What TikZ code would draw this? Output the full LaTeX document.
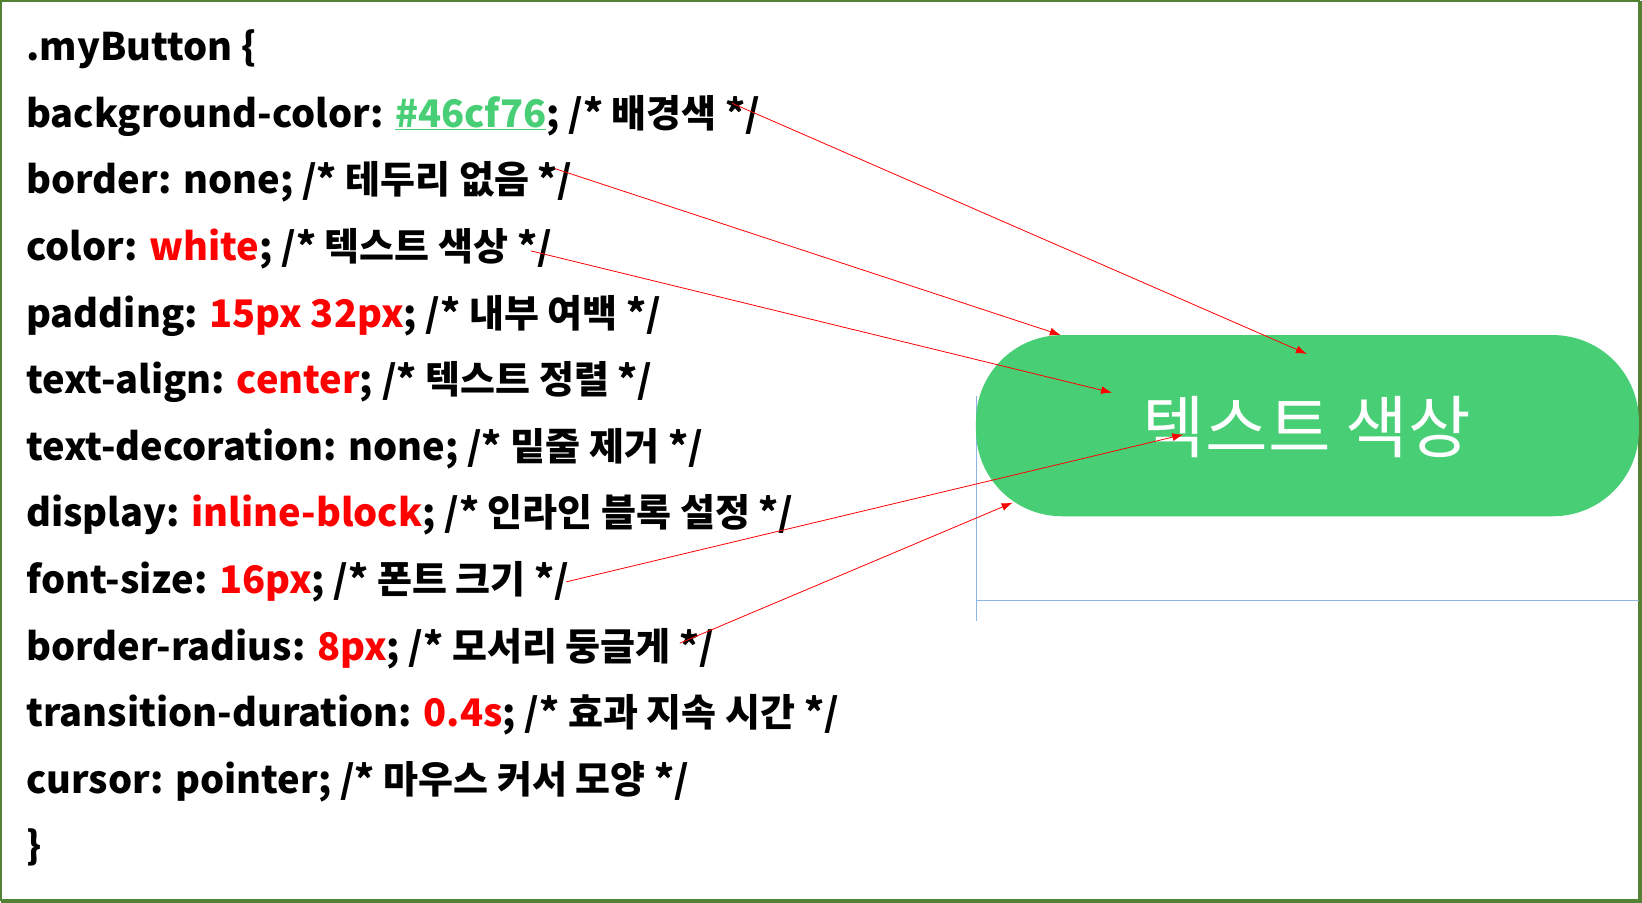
\documentclass[tikz,border=0pt]{standalone}
\usepackage{fontspec}
\setmainfont{Noto Sans CJK KR}[BoldFont={* Black}]
\newfontfamily\btnfont{Noto Sans CJK KR}
\usetikzlibrary{arrows.meta,calc}
\definecolor{frame}{HTML}{548235}
\definecolor{btn}{HTML}{48CF76}
\definecolor{guide}{HTML}{8EB4E3}
\begin{document}
\begin{tikzpicture}[x=1.0472pt,y=-1.0472pt,
  code/.style={anchor=base west,inner sep=0,font=\fontsize{38}{38}\selectfont\bfseries},
  arr/.style={red,line width=0.8pt,-{Latex[length=11pt,width=8pt]}}]
\useasboundingbox (0,0) rectangle (1568,862.3);
\fill[white] (0,0) rectangle (1568,862.3);
\draw[frame,line width=2pt] (1,1) rectangle (1565,859);
\draw[frame,line width=3pt] (1,861) -- (1566.5,861) -- (1566.5,1);
\newcommand\rd[1]{\textcolor{red}{#1}}
\foreach \t [count=\i from 0] in {
 {.myButton \{},
 {background-color: \textcolor{btn}{\underline{\#46cf76}}; /* 배경색 */},
 {border: none; /* 테두리 없음 */},
 {color: \rd{white}; /* 텍스트 색상 */},
 {padding: \rd{15px 32px}; /* 내부 여백 */},
 {text-align: \rd{center}; /* 텍스트 정렬 */},
 {text-decoration: none; /* 밑줄 제거 */},
 {display: \rd{inline-block}; /* 인라인 블록 설정 */},
 {font-size: \rd{16px}; /* 폰트 크기 */},
 {border-radius: \rd{8px}; /* 모서리 둥글게 */},
 {transition-duration: \rd{0.4s}; /* 효과 지속 시간 */},
 {cursor: pointer; /* 마우스 커서 모양 */},
 {\}}}
  \node[code] (l\i) at (25,{58+63.6*\i}) {\t};
\draw[guide,line width=0.8pt] (932,378) -- (932,593);
\draw[guide,line width=0.8pt] (932,573) -- (1565,573);
\fill[btn,rounded corners=86pt] (932,320) rectangle (1565,493);
\node[inner sep=0,text=white,font=\btnfont\fontsize{68}{68}\selectfont] (b) at (1248,408) {텍스트 색상};
\coordinate (s1) at ($(l1.east)+(-27,-12)$); \coordinate (e1) at (1248,338);
\coordinate (s2) at ($(l2.east)+(-17,-13)$); \coordinate (e2) at (1013,320);
\coordinate (s3) at ($(l3.east)+(-20,2)$); \coordinate (e3) at (1062,375);
\coordinate (s4) at ($(l8.east)+(-3,0)$); \coordinate (e4) at (1130,415);
\coordinate (s5) at ($(l9.east)+(-33,-5)$); \coordinate (e5) at (967,480);
\foreach \k in {1,...,5} \draw[arr] (s\k) -- (e\k);
\end{tikzpicture}
\end{document}
